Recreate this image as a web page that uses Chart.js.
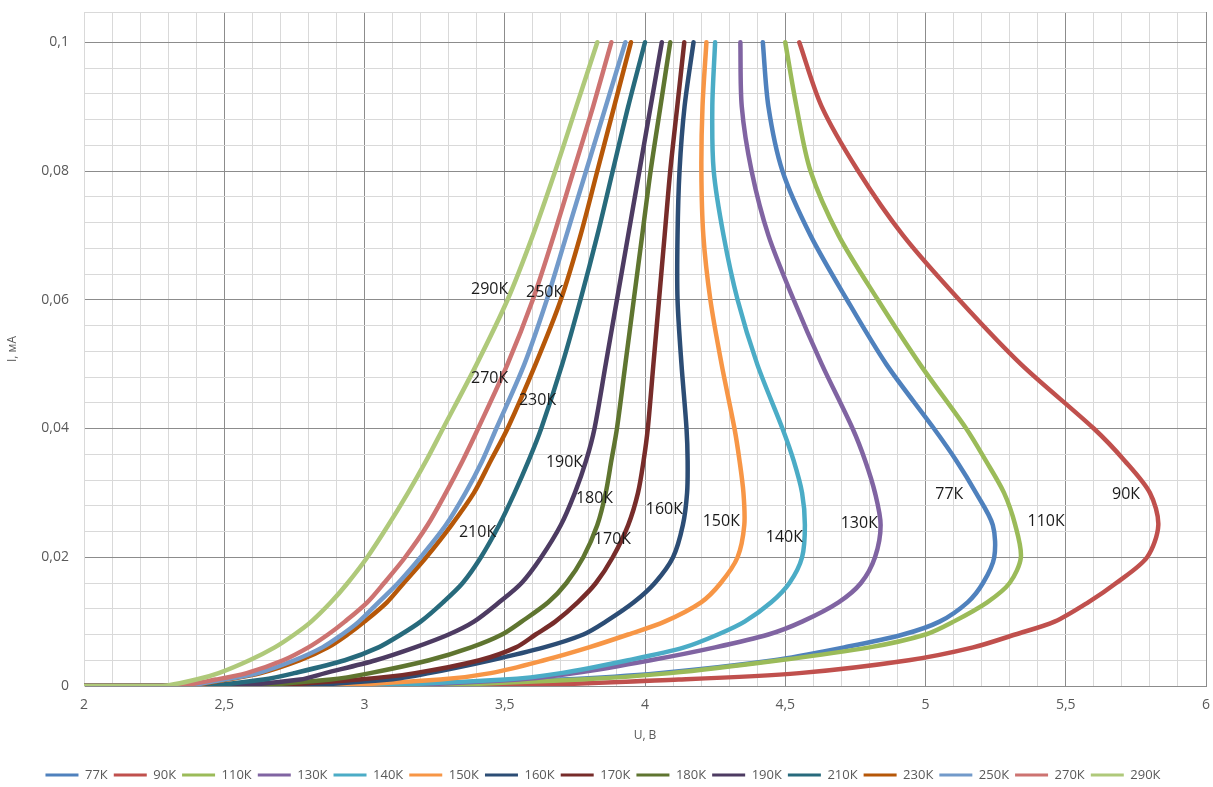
<!DOCTYPE html>
<html lang="ru">
<head>
<meta charset="UTF-8">
<title>ВАХ</title>
<script src="https://cdn.jsdelivr.net/npm/chart.js@4.4.1/dist/chart.umd.min.js"></script>
<style>
  html, body { margin: 0; padding: 0; background: #fff; }
  #wrap { width: 1213px; height: 787px; }
</style>
</head>
<body>
<div id="wrap"><canvas id="chart" width="1213" height="787"></canvas></div>
<script>
// current levels, mA (first two points: flat start along zero)
const currents = [0, 0, 0.001, 0.002, 0.004, 0.006, 0.008, 0.01, 0.013, 0.016, 0.02,
                  0.025, 0.03, 0.035, 0.04, 0.05, 0.06, 0.07, 0.08, 0.09, 0.1];

// voltage, V, for each temperature at the current levels above
const u77  = [2, 3.10, 3.70, 4.05, 4.46, 4.71, 4.92, 5.05, 5.15, 5.205, 5.245, 5.24, 5.18, 5.11, 5.03, 4.86, 4.72, 4.59, 4.49, 4.44, 4.42];
const u90  = [2, 3.45, 4.12, 4.55, 4.94, 5.17, 5.32, 5.46, 5.58, 5.68, 5.79, 5.83, 5.80, 5.71, 5.60, 5.34, 5.12, 4.92, 4.76, 4.63, 4.55];
const u110 = [2, 3.10, 3.77, 4.09, 4.48, 4.80, 5.00, 5.10, 5.22, 5.30, 5.34, 5.32, 5.28, 5.215, 5.145, 4.98, 4.83, 4.69, 4.59, 4.54, 4.50];
const u130 = [2, 3.00, 3.55, 3.75, 4.02, 4.25, 4.44, 4.56, 4.69, 4.77, 4.82, 4.84, 4.82, 4.785, 4.74, 4.63, 4.53, 4.44, 4.38, 4.345, 4.34];
const u140 = [2, 2.90, 3.50, 3.70, 3.94, 4.14, 4.26, 4.355, 4.45, 4.515, 4.56, 4.57, 4.56, 4.53, 4.49, 4.40, 4.33, 4.28, 4.245, 4.24, 4.25];
const u150 = [2, 2.80, 3.27, 3.45, 3.64, 3.80, 3.94, 4.07, 4.20, 4.27, 4.33, 4.354, 4.351, 4.337, 4.319, 4.273, 4.233, 4.208, 4.201, 4.205, 4.219];
const u160 = [2, 2.70, 3.09, 3.23, 3.45, 3.64, 3.78, 3.86, 3.96, 4.035, 4.10, 4.135, 4.15, 4.152, 4.148, 4.130, 4.116, 4.116, 4.123, 4.141, 4.173];
const u170 = [2, 2.60, 2.98, 3.18, 3.41, 3.54, 3.61, 3.68, 3.76, 3.825, 3.885, 3.94, 3.975, 3.995, 4.01, 4.03, 4.05, 4.07, 4.09, 4.115, 4.14];
const u180 = [2, 2.55, 2.88, 3.02, 3.23, 3.38, 3.49, 3.56, 3.655, 3.72, 3.78, 3.83, 3.86, 3.88, 3.90, 3.93, 3.96, 3.99, 4.02, 4.055, 4.09];
const u190 = [2, 2.50, 2.77, 2.86, 3.04, 3.18, 3.30, 3.39, 3.48, 3.56, 3.63, 3.70, 3.75, 3.79, 3.82, 3.86, 3.90, 3.94, 3.98, 4.02, 4.06];
const u210 = [2, 2.42, 2.64, 2.75, 2.93, 3.05, 3.13, 3.20, 3.28, 3.35, 3.415, 3.48, 3.535, 3.585, 3.63, 3.705, 3.77, 3.83, 3.885, 3.94, 4.00];
const u230 = [2, 2.36, 2.51, 2.63, 2.77, 2.87, 2.94, 3.00, 3.08, 3.14, 3.22, 3.31, 3.39, 3.45, 3.51, 3.61, 3.70, 3.77, 3.83, 3.89, 3.95];
const u250 = [2, 2.35, 2.50, 2.62, 2.75, 2.85, 2.92, 2.98, 3.05, 3.12, 3.20, 3.29, 3.36, 3.42, 3.47, 3.57, 3.65, 3.72, 3.79, 3.86, 3.93];
const u270 = [2, 2.33, 2.47, 2.58, 2.71, 2.80, 2.87, 2.93, 3.01, 3.07, 3.145, 3.225, 3.29, 3.35, 3.405, 3.51, 3.60, 3.675, 3.745, 3.815, 3.88];
const u290 = [2, 2.28, 2.40, 2.48, 2.59, 2.68, 2.75, 2.81, 2.88, 2.94, 3.01, 3.085, 3.155, 3.22, 3.28, 3.40, 3.51, 3.60, 3.68, 3.755, 3.83];

const temps = ['77К', '90К', '110К', '130К', '140К', '150К', '160К', '170К', '180К', '190К', '210К', '230К', '250К', '270К', '290К'];
const voltages = [u77, u90, u110, u130, u140, u150, u160, u170, u180, u190, u210, u230, u250, u270, u290];
const colors = ['#4F81BD', '#C0504D', '#9BBB59', '#8064A2', '#4BACC6', '#F79646', '#2C4D75', '#772C2A',
                '#5F7530', '#4D3B62', '#276A7C', '#B65708', '#729ACA', '#CD7371', '#AFC97A'];

// axis ticks
const xMajor = [2, 2.5, 3, 3.5, 4, 4.5, 5, 5.5, 6];
const xTickLabels = ['2', '2,5', '3', '3,5', '4', '4,5', '5', '5,5', '6'];
const yMajor = [0, 0.02, 0.04, 0.06, 0.08, 0.1];
const yTickLabels = ['0', '0,02', '0,04', '0,06', '0,08', '0,1'];
const yMax = 0.1047;

// curve captions inside the plot
const curveLabels = [
  { text: '290К', u: 3.446, i: 0.0616 }, { text: '250К', u: 3.642, i: 0.0612 },
  { text: '270К', u: 3.446, i: 0.0478 }, { text: '230К', u: 3.617, i: 0.0444 },
  { text: '190К', u: 3.713, i: 0.0348 }, { text: '180К', u: 3.820, i: 0.0292 },
  { text: '210К', u: 3.403, i: 0.0239 }, { text: '160К', u: 4.069, i: 0.0275 },
  { text: '170К', u: 3.884, i: 0.0227 }, { text: '150К', u: 4.272, i: 0.0255 },
  { text: '140К', u: 4.497, i: 0.0231 }, { text: '130К', u: 4.764, i: 0.0253 },
  { text: '77К',  u: 5.085, i: 0.0298 }, { text: '110К', u: 5.430, i: 0.0256 },
  { text: '90К',  u: 5.715, i: 0.0297 }
];

const xTicks = Array.from({ length: 41 }, (_, k) => Math.round(20 + k) / 10);
const yTicks = Array.from({ length: 26 }, (_, k) => (k * 4) / 1000).concat([yMax]);

const gridMajor = '#8c8c8c';
const gridMinor = '#d9d9d9';
const font = '"Open Sans", "DejaVu Sans", sans-serif';

const labelPlugin = {
  id: 'curveLabels',
  afterDatasetsDraw(chart) {
    const { ctx, scales: { x, y } } = chart;
    ctx.save();
    ctx.font = '16px ' + font;
    ctx.fillStyle = '#1a1a1a';
    ctx.textAlign = 'center';
    ctx.textBaseline = 'middle';
    curveLabels.forEach(l => ctx.fillText(l.text, x.getPixelForValue(l.u), y.getPixelForValue(l.i)));
    ctx.restore();
  }
};

const datasets = temps.map((t, k) => ({
  label: t,
  data: currents.map((c, j) => ({ x: voltages[k][j], y: c })),
  borderColor: colors[k],
  backgroundColor: colors[k],
  borderWidth: 4.5,
  pointRadius: 0,
  tension: 0.3,
  borderCapStyle: 'round',
  borderJoinStyle: 'round',
  showLine: true,
  order: temps.length - k
}));

new Chart(document.getElementById('chart'), {
  type: 'scatter',
  data: { datasets },
  plugins: [labelPlugin],
  options: {
    responsive: false,
    animation: false,
    events: [],
    layout: { padding: { left: 0, right: 7, top: 12, bottom: 0 } },
    plugins: {
      tooltip: { enabled: false },
      legend: {
        position: 'bottom',
        maxHeight: 24.5,
        labels: {
          boxWidth: 33,
          boxHeight: 3,
          padding: 6,
          color: '#595959',
          font: { family: font, size: 13 },
          sort: (a, b) => a.datasetIndex - b.datasetIndex,
          generateLabels(chart) {
            const items = Chart.defaults.plugins.legend.labels.generateLabels(chart);
            items.forEach(it => { it.lineWidth = 0; });
            return items;
          }
        }
      }
    },
    scales: {
      x: {
        type: 'linear',
        min: 2,
        max: 6,
        afterBuildTicks: s => { s.ticks = xTicks.map(v => ({ value: v })); },
        afterFit: s => { s.height = 76.5; s.paddingLeft = 0; s.paddingRight = 0; },
        ticks: {
          autoSkip: false,
          maxRotation: 0,
          padding: 11,
          color: '#595959',
          font: { family: font, size: 14 },
          callback: v => { const k = xMajor.indexOf(v); return k >= 0 ? xTickLabels[k] : ''; }
        },
        grid: {
          drawTicks: false,
          color: c => (c.tick && xMajor.includes(c.tick.value) && c.tick.value !== 2) ? gridMajor : gridMinor
        },
        border: { color: gridMajor },
        title: {
          display: true,
          text: 'U, В',
          color: '#595959',
          font: { family: font, size: 12 },
          padding: { top: 4, bottom: 20 }
        }
      },
      y: {
        type: 'linear',
        min: 0,
        max: yMax,
        afterBuildTicks: s => { s.ticks = yTicks.map(v => ({ value: v })); },
        afterFit: s => { s.width = 84; s.paddingTop = 0; s.paddingBottom = 0; },
        ticks: {
          autoSkip: false,
          padding: 15,
          color: '#595959',
          font: { family: font, size: 14 },
          callback: v => { const k = yMajor.indexOf(v); return k >= 0 ? yTickLabels[k] : ''; }
        },
        grid: {
          drawTicks: false,
          color: c => (c.tick && yMajor.includes(c.tick.value)) ? gridMajor : gridMinor
        },
        border: { color: gridMinor },
        title: {
          display: true,
          text: 'I, мА',
          color: '#595959',
          font: { family: font, size: 12 },
          padding: { top: 5, bottom: 0 }
        }
      }
    }
  }
});
</script>
</body>
</html>
